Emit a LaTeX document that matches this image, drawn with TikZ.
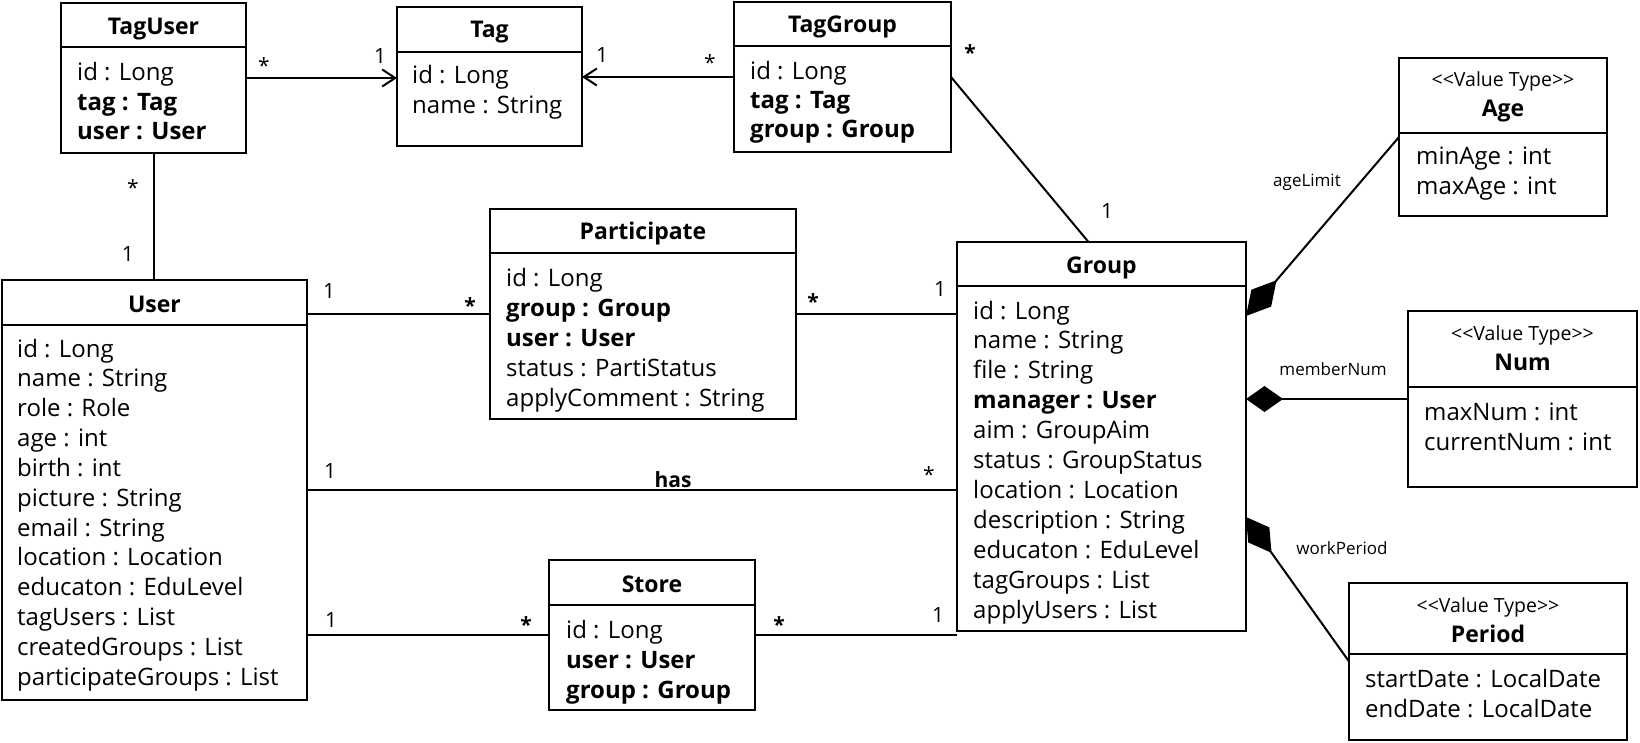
\documentclass[tikz,border=0pt]{standalone}
\usepackage{fontspec}
\setmainfont{Open Sans}[Ligatures=NoCommon]
\usetikzlibrary{arrows.meta,calc}
\tikzset{
 cbox/.style={draw, line width=2pt, anchor=north west, inner sep=0pt, outer sep=0pt},
 cline/.style={line width=2pt},
 ctitle/.style={anchor=base, inner sep=0pt, font=\fontsize{23}{28}\selectfont\bfseries},
 attr/.style={anchor=base west, inner sep=0pt, font=\fontsize{24}{28}\selectfont},
 stereo/.style={anchor=base, inner sep=0pt, font=\fontsize{19.5}{22}\selectfont},
 mult/.style={anchor=base, inner sep=0pt, font=\fontsize{21}{24}\selectfont},
 rlabel/.style={inner sep=0pt, font=\fontsize{17}{20}\selectfont},
 conn/.style={line width=2pt},
 navarrow/.style={conn, -{Straight Barb[length=13pt,width=17pt]}},
 comp/.style={conn, {Diamond[length=#1,width=26pt]}-},
}
\newcommand\classbox[6]{%
 \node[cbox, minimum width={#4-#2}, minimum height={#5-#3}] (#1) at (#2,#3) {};
 \draw[cline] (#2,#6) -- (#4,#6);}
\newcommand\attrlist[5]{%
 \foreach[count=\i] \t in {#5} {\node[attr] (#1-a\i) at (#2,{#3+(\i-1)*#4}) {\t};}}
\newcommand\vtype{<{}<Value Type>{}>}
\begin{document}
\begin{tikzpicture}[x=1pt,y=-1pt]
\useasboundingbox[fill=white] (0,0) rectangle (1640,743);

\classbox{taguser}{61}{3}{246}{153}{47}
\node[ctitle] (taguser-t) at (153.5,35) {TagUser};
\attrlist{taguser}{77}{81}{29.5}{id : Long, \textbf{tag : Tag}, \textbf{user : User}}

\classbox{tag}{397}{7}{582}{146}{52}
\node[ctitle] (tag-t) at (489.5,38) {Tag};
\attrlist{tag}{412}{84}{29.5}{id : Long, name : String}

\classbox{taggroup}{734}{2}{951}{152}{46}
\node[ctitle] (taggroup-t) at (842.5,33) {TagGroup};
\attrlist{taggroup}{750}{80}{29}{id : Long, \textbf{tag : Tag}, \textbf{group : Group}}

\classbox{age}{1399}{58}{1607}{216}{133}
\node[stereo] (age-s) at (1503,87) {\vtype};
\node[ctitle] (age-t) at (1503,117) {Age};
\attrlist{age}{1416}{165}{30}{minAge : int, maxAge : int}

\classbox{participate}{490}{209}{796}{419}{253}
\node[ctitle] (participate-t) at (643,240) {Participate};
\attrlist{participate}{506}{287}{29.85}{id : Long, \textbf{group : Group}, \textbf{user : User}, status : PartiStatus, applyComment : String}

\classbox{group}{957}{242}{1246}{631}{286}
\node[ctitle] (group-t) at (1101.5,273) {Group};
\attrlist{group}{973}{319}{29.9}{id : Long, name : String, file : String, \textbf{manager : User}, aim : GroupAim, status : GroupStatus, location : Location, description : String, educaton : EduLevel, tagGroups : List, applyUsers : List}

\classbox{num}{1408}{311}{1637}{487}{387}
\node[stereo] (num-s) at (1522.5,340) {\vtype};
\node[ctitle] (num-t) at (1522.5,370) {Num};
\attrlist{num}{1424}{420}{30}{maxNum : int, currentNum : int}

\classbox{user}{2}{280}{307}{700}{325}
\node[ctitle] (user-t) at (154.5,312) {User};
\attrlist{user}{17}{357}{29.85}{id : Long, name : String, role : Role, age : int, birth : int, picture : String, email : String, location : Location, educaton : EduLevel, tagUsers : List, createdGroups : List, participateGroups : List}

\classbox{store}{549}{560}{755}{710}{605}
\node[ctitle] (store-t) at (652,592) {Store};
\attrlist{store}{566}{638}{30}{id : Long, \textbf{user : User}, \textbf{group : Group}}

\classbox{period}{1349}{583}{1627}{740}{654}
\node[stereo] (period-s) at (1488,612) {\vtype};
\node[ctitle] (period-t) at (1488,642) {Period};
\attrlist{period}{1365}{687}{30}{startDate : LocalDate, endDate : LocalDate}

% connectors
\draw[navarrow] (taguser.east) -- (taguser.east -| tag.west);
\draw[navarrow] (taggroup.west) -- (taggroup.west -| tag.east);
\draw[conn] (taguser.south) -- (taguser.south |- user.north);
\draw[conn] (taggroup.east) -- ([xshift=-13pt]group.north);
\draw[conn] (user.east |- participate.west) -- (participate.west);
\draw[conn] (participate.east) -- (participate.east -| group.west);
\draw[conn] (user.east) -- (user.east -| group.west);
\draw[conn] (user.east |- store.west) -- (store.west);
\draw[conn] (store.east) -- (store.east -| group.west);
\draw[comp=47pt] ([yshift=-74pt]group.north east) -- (age.west);
\draw[comp=37pt] (num.west -| group.east) -- (num.west);
\draw[comp=44pt] ([yshift=-275pt]group.north east) -- (period.west);

% labels
\node[rlabel] (agelimit) at (1307,182) {ageLimit};
\node[rlabel] (membernum) at (1333,369) {memberNum};
\node[rlabel] (workperiod) at (1342,548) {workPeriod};
\node[ctitle, font=\fontsize{21}{24}\selectfont\bfseries] (has) at (673,487) {has};

% multiplicities
\node[mult] (m1) at (380,63.5) {1};
\node[mult] (m2) at (602,62.5) {1};
\node[mult] (m3) at (1107,218.5) {1};
\node[mult] (m4) at (128,261.5) {1};
\node[mult] (m5) at (329,298.5) {1};
\node[mult] (m6) at (940,296.5) {1};
\node[mult] (m7) at (330,478.5) {1};
\node[mult] (m8) at (331,627.5) {1};
\node[mult] (m9) at (938,622.5) {1};
\node[mult] (s1) at (264,74) {*};
\node[mult] (s2) at (710,71) {*};
\node[mult] (s3) at (970,61) {\textbf{*}};
\node[mult] (s4) at (133,196) {*};
\node[mult] (s5) at (470,313) {\textbf{*}};
\node[mult] (s6) at (813,309) {\textbf{*}};
\node[mult] (s7) at (929,482) {*};
\node[mult] (s8) at (526,632) {\textbf{*}};
\node[mult] (s9) at (779,632) {\textbf{*}};
\end{tikzpicture}
\end{document}
